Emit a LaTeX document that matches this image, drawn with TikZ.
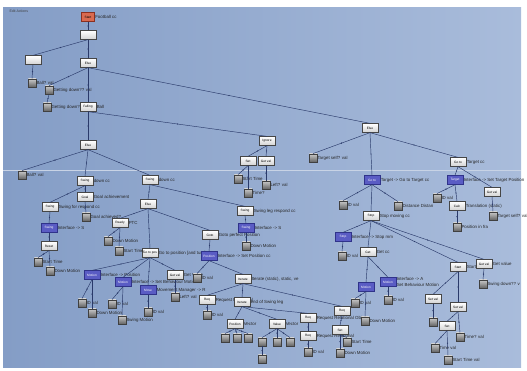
\documentclass[tikz,border=0pt]{standalone}
\usepackage{fontspec}
\setsansfont{Liberation Sans}
\definecolor{bgL}{HTML}{849DC6}
\definecolor{bgR}{HTML}{A9BCDB}
\definecolor{connc}{HTML}{2A3A6A}
\definecolor{behc}{HTML}{5A5CC4}
\definecolor{behd}{HTML}{30338A}
\definecolor{rootc}{HTML}{D96A50}
\definecolor{rootd}{HTML}{8A3020}
\newcommand\NC[4]{\node[box,label={[lbl]right:#4}] (#1) at (#2) {#3};}
\newcommand\NL[3]{\node[leaf,label={[lbl]right:#3}] (#1) at (#2) {};}
\newcommand\NB[4]{\node[beh,label={[lbl]right:#4}] (#1) at (#2) {#3};}
\newcommand\cn[2]{\draw[conn] (#1.south) -- node[dotm]{} (#2.north);}
\begin{document}
\begin{tikzpicture}[x=1pt,y=-1pt,
 conn/.style={draw=connc, line width=0.45pt},
 dotm/.style={circle, fill=connc, inner sep=0pt, minimum size=1.3pt},
 box/.style={rectangle, draw=gray!55!black, line width=0.3pt, top color=white, bottom color=gray!35, minimum width=16pt, minimum height=9pt, inner sep=0.3pt, font=\fontsize{3.2}{3.2}\sffamily},
 leaf/.style={rectangle, draw=black!75, line width=0.3pt, top color=gray!40, bottom color=gray!75!black, minimum width=7.5pt, minimum height=8.5pt, inner sep=0pt},
 beh/.style={rectangle, draw=behd, line width=0.3pt, fill=behc, minimum width=16pt, minimum height=9pt, inner sep=0.3pt, font=\fontsize{3.2}{3.2}\sffamily\color{white}},
 rootn/.style={rectangle, draw=rootd, line width=0.3pt, fill=rootc, minimum width=13pt, minimum height=9pt, inner sep=0.3pt, font=\fontsize{3.2}{3.2}\sffamily},
 lbl/.style={font=\fontsize{4.4}{4.4}\sffamily, text=black!85, inner sep=0.4pt},
]
\useasboundingbox (0,0) rectangle (527,370);
\shade[left color=bgL, right color=bgR] (3,7) rectangle (521,367);
\draw[white!55!bgL, line width=0.6pt] (3,170) -- (521,170);
\node[font=\fontsize{3.5}{3.5}\sffamily, text=gray!50!black, anchor=west] (title) at (6,11) {Edit Actions};
% top part
\node[rootn,label={[lbl]right:Football cc}] (r) at (88,17) {Start};
\NC{n1}{88,35}{}{}
\NC{n2}{33,60}{}{}
\NC{n3}{88,63}{Else}{}
\NL{l1}{32,83}{Ball? val}
\NL{l2}{49,90}{Getting down?? val}
\NL{l3}{47,107}{Getting down? v}
\NC{n4}{88,107}{Falling}{Ball}
\NC{n5}{88,145}{Else}{}
\NC{n6}{267,141}{Ignore}{}
\NC{n7}{370,128}{Else}{}
% left subtree
\NL{l4}{22,175}{Ball? val}
\NC{n8}{85,181}{Swing}{down cc}
\NC{n9}{150,180}{Swing}{down cc}
\NC{n10}{50,207}{Swing}{Swing for respond cc}
\NC{n11}{85,197}{Goal}{Goal achievement}
\NL{l5}{86,217}{Goal achieved?}
\NB{b1}{49,228}{Swing}{Interface -> S}
\NC{n12}{49,246}{Reset}{}
\NL{l6}{38,262}{Start Time}
\NL{l7}{50,271}{Down Motion}
\NC{n13}{148,204}{Else}{}
\NC{n14}{245,211}{Swing}{Swing leg respond cc}
\NC{n15}{120,223}{Ready}{PTC}
\NC{n16}{150,253}{Go to pos}{Go to position [and turn] cc}
\NC{n17}{210,235}{Goto}{Goto perfect Position}
\NL{l8}{108,241}{Down Motion}
\NL{l9}{119,251}{Start Time}
\NB{b2}{92,275}{Motion}{Interface -> Position}
\NB{b3}{123,282}{Motion}{Interface -> Set Behaviour Motion}
\NB{b4}{148,290}{Move}{Movement Manager -> R}
\NC{n18}{175,275}{Get val}{Get Value}
\NL{l10}{82,303}{ID val}
\NL{l11}{92,313}{Down Motion}
\NL{l12}{112,304}{ID val}
\NL{l13}{122,320}{Swing Motion}
\NL{l14}{148,312}{ID val}
\NL{l15}{175,297}{Left? val}
\NB{b5}{246,228}{Swing}{Interface -> S}
\NL{l16}{246,246}{Down Motion}
\NB{b6}{209,256}{Position}{Interface -> Set Position cc}
\NL{l17}{197,278}{ID val}
\NC{n19}{243,279}{Iterate}{Iterate (static), static, ve}
\NC{n20}{207,300}{Req}{Request Relational}
\NC{n21}{242,302}{Iterate}{end of Swing leg}
\NC{n22}{308,318}{Req}{Request Relational Object}
\NC{n23}{342,311}{Req}{}
\NL{l18}{207,315}{ID val}
\NC{n24}{235,324}{Position}{Vector}
\NC{n25}{277,324}{Value}{Vector}
\NL{l19}{225,338}{}
\NL{l20}{237,338}{}
\NL{l21}{248,338}{}
\NL{l22}{262,342}{}
\NL{l23}{277,342}{}
\NL{l24}{290,342}{}
\NL{l25}{262,359}{}
\NC{n26}{308,336}{Req}{Request Relational}
\NL{l26}{308,352}{ID val}
\NC{n27}{340,330}{Set}{}
\NL{l27}{347,342}{Start Time}
\NL{l28}{340,353}{Down Motion}
% middle
\NC{n28}{248,161}{Set}{}
\NC{n29}{266,161}{Get val}{}
\NL{l29}{238,179}{Start Time}
\NL{l30}{248,193}{Time?}
\NL{l31}{266,185}{Left? val}
% right subtree
\NL{l32}{313,158}{Target self? val}
\NB{b7}{372,180}{Go to}{Target -> Go to Target cc}
\NC{n30}{458,162}{Go to}{Target cc}
\NL{l33}{343,205}{ID val}
\NL{l34}{398,206}{Distance Distan}
\NC{n31}{371,216}{Stop}{Stop moving cc}
\NB{b8}{343,237}{Stop}{Interface -> Stop mm}
\NL{l35}{342,256}{ID val}
\NC{n32}{368,252}{Get}{Get cc}
\NC{n33}{458,267}{Start}{Start Timer}
\NC{n34}{484,264}{Get val}{Get value}
\NB{b9}{366,287}{Motion}{}
\NB{b10}{388,282}{Motion}{\shortstack[l]{Interface -> A\\Set Behaviour Motion}}
\NL{l36}{355,303}{ID val}
\NL{l37}{365,321}{Down Motion}
\NL{l38}{388,300}{ID val}
\NC{n35}{433,299}{Set val}{}
\NC{n36}{458,307}{Set val}{}
\NL{l39}{433,322}{}
\NC{n37}{447,326}{Set}{}
\NL{l40}{460,337}{Time? val}
\NL{l41}{435,348}{Time val}
\NL{l42}{448,360}{Start Time val}
\NL{l43}{483,284}{Swing down?? v}
\NB{b11}{455,180}{Target}{Interface -> Set Target Position}
\NC{n38}{492,192}{Get val}{}
\NL{l44}{437,198}{ID val}
\NC{n39}{457,206}{Calc}{Translation (static)}
\NL{l45}{457,227}{Position in fra}
\NL{l46}{493,216}{Target self? val}
% connectors
\cn{r}{n1}\cn{n1}{n2}\cn{n1}{n3}\cn{n2}{l1}\cn{n3}{l2}\cn{l2}{l3}\cn{n3}{n4}\cn{n3}{n7}
\cn{n4}{n5}\cn{n4}{n6}
\cn{n5}{l4}\cn{n5}{n8}\cn{n5}{n9}
\cn{n8}{n10}\cn{n8}{n11}\cn{n11}{l5}\cn{n10}{b1}\cn{b1}{n12}\cn{n12}{l6}\cn{n12}{l7}
\cn{n9}{n13}\cn{n9}{n14}
\cn{n13}{n15}\cn{n13}{n16}\cn{n13}{n17}
\cn{n15}{l8}\cn{n15}{l9}
\cn{n16}{b2}\cn{n16}{b3}\cn{n16}{b4}\cn{n16}{n18}
\cn{b2}{l10}\cn{b2}{l11}\cn{b3}{l12}\cn{b3}{l13}\cn{b4}{l14}\cn{n18}{l15}
\cn{n14}{b5}\cn{b5}{l16}
\cn{n17}{b6}\cn{b6}{l17}\cn{b6}{n19}
\cn{n19}{n20}\cn{n19}{n21}\cn{n19}{n23}
\cn{n20}{l18}\cn{n21}{n24}\cn{n21}{n25}\cn{n21}{n22}
\cn{n24}{l19}\cn{n24}{l20}\cn{n24}{l21}
\cn{n25}{l22}\cn{n25}{l23}\cn{n25}{l24}\cn{l22}{l25}
\cn{n22}{n26}\cn{n26}{l26}
\cn{n23}{n27}\cn{n27}{l27}\cn{n27}{l28}
\cn{n6}{n28}\cn{n6}{n29}\cn{n28}{l29}\cn{n28}{l30}\cn{n29}{l31}
\cn{n7}{l32}\cn{n7}{b7}\cn{n7}{n30}
\cn{b7}{l33}\cn{b7}{l34}\cn{b7}{n31}
\cn{n31}{b8}\cn{b8}{l35}\cn{n31}{n32}\cn{n31}{n33}\cn{n31}{n34}
\cn{n32}{b9}\cn{n32}{b10}\cn{b9}{l36}\cn{b9}{l37}\cn{b10}{l38}
\cn{n33}{n35}\cn{n33}{n36}\cn{n35}{l39}\cn{n36}{n37}\cn{n36}{l40}\cn{n37}{l41}\cn{n37}{l42}
\cn{n34}{l43}
\cn{n30}{b11}\cn{n30}{n38}\cn{b11}{l44}\cn{b11}{n39}\cn{n39}{l45}\cn{n38}{l46}
\end{tikzpicture}
\end{document}
